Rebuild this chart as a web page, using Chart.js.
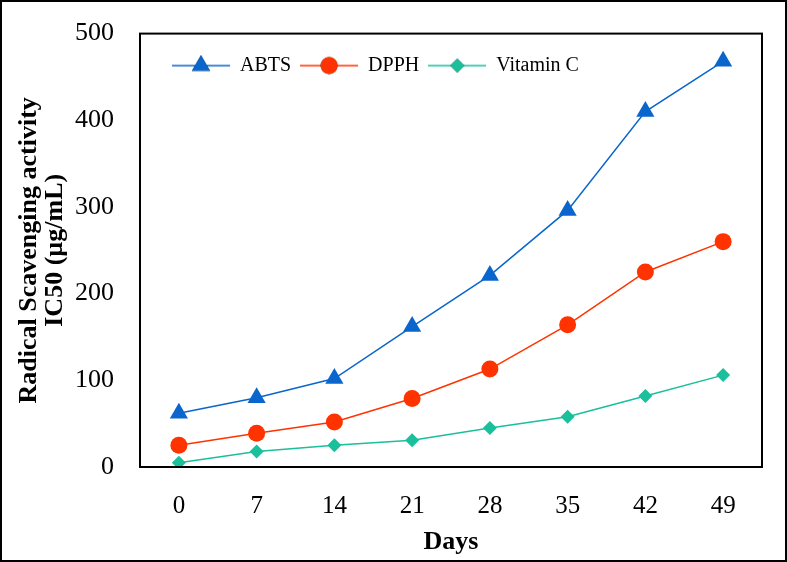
<!DOCTYPE html>
<html>
<head>
<meta charset="utf-8">
<script src="https://cdn.jsdelivr.net/npm/chart.js@4.4.1/dist/chart.umd.min.js"></script>
<style>
  body { margin: 0; background: #fff; }
  #wrap { position: relative; width: 787px; height: 562px; }
  #frame { position: absolute; left: 0; top: 0; width: 787px; height: 562px; box-sizing: border-box; border: 2px solid #000; pointer-events: none; }
</style>
</head>
<body>
<div id="wrap">
  <canvas id="chart" width="787" height="562"></canvas>
  <div id="frame"></div>
</div>
<script>
const days = ['0', '7', '14', '21', '28', '35', '42', '49'];
const abts = [62, 80, 102, 162, 221, 296, 410, 468];
const dpph = [25, 39, 52, 79, 113, 164, 225, 260];
const vitaminC = [5, 18, 25, 31, 45, 58, 82, 106];
const yTicks = [0, 100, 200, 300, 400, 500];

const serif = 'Liberation Serif';

// small line + marker picture for each legend entry
function legendIcon(color, style, r) {
    const c = document.createElement('canvas');
    c.width = 58;
    c.height = 22;
    const g = c.getContext('2d');
    g.strokeStyle = color;
    g.lineWidth = 1.5;
    g.beginPath();
    g.moveTo(0, 11);
    g.lineTo(58, 11);
    g.stroke();
    Chart.helpers.drawPoint(g, { pointStyle: style, radius: r, borderWidth: 0 }, 29, 11);
    g.fillStyle = color;
    g.fill();
    return c;
}

// legend sits inside the plot box, so it takes no room in the layout
const boxPlugin = {
    id: 'box',
    afterInit(chart) {
        const lg = chart.legend;
        const fit = lg.fit;
        lg.fit = function () {
            fit.call(this);
            this.realHeight = this.height;
            this.height = 0;
        };
    },
    beforeDraw(chart) {
        const a = chart.chartArea;
        const lg = chart.legend;
        lg.left = a.left + 23;
        lg.width = a.right - a.left - 23;
        lg.right = lg.left + lg.width;
        lg.top = a.top + 13;
        lg.height = lg.realHeight;
        lg.bottom = lg.top + lg.height;
    },
    afterDraw(chart) {
        const a = chart.chartArea;
        const ctx = chart.ctx;
        ctx.save();
        ctx.strokeStyle = '#000';
        ctx.lineWidth = 2;
        ctx.strokeRect(a.left, a.top, a.right - a.left, a.bottom - a.top);
        ctx.restore();
    }
};

function series(label, data, color, style, r) {
    return {
        label: label,
        data: data,
        borderColor: color,
        backgroundColor: color,
        borderWidth: 1.5,
        pointStyle: style,
        pointRadius: r,
        pointBorderWidth: 0,
        legendIcon: legendIcon(color, style, r)
    };
}

const ctx = document.getElementById('chart').getContext('2d');
new Chart(ctx, {
    type: 'line',
    data: {
        labels: days,
        datasets: [
            series('ABTS', abts, '#0A66CC', 'triangle', 10.5),
            series('DPPH', dpph, '#FF3300', 'circle', 8.5),
            series('Vitamin C', vitaminC, '#1ABF9B', 'rectRot', 7)
        ]
    },
    options: {
        responsive: false,
        animation: false,
        layout: { padding: { left: 12, right: 25, top: 23, bottom: 0 } },
        plugins: {
            legend: {
                position: 'top',
                align: 'start',
                labels: {
                    usePointStyle: true,
                    pointStyleWidth: 58,
                    padding: 9,
                    color: '#000',
                    font: { family: serif, size: 20 },
                    generateLabels(chart) {
                        return chart.data.datasets.map((d, i) => ({
                            text: d.label,
                            pointStyle: d.legendIcon,
                            fillStyle: d.borderColor,
                            strokeStyle: d.borderColor,
                            lineWidth: 0,
                            datasetIndex: i
                        }));
                    }
                }
            },
            tooltip: { enabled: false }
        },
        scales: {
            x: {
                offset: true,
                grid: { display: false },
                border: { display: false },
                ticks: { color: '#000', padding: 16, font: { family: serif, size: 25 } },
                title: {
                    display: true,
                    text: 'Days',
                    color: '#000',
                    padding: { top: 12 },
                    font: { family: serif, size: 26, weight: 'bold' }
                },
                afterFit(s) { s.height = 95; }
            },
            y: {
                min: 0,
                max: 500,
                grid: { display: false },
                border: { display: false },
                afterBuildTicks(s) { s.ticks = yTicks.map(v => ({ value: v })); },
                ticks: { color: '#000', padding: 18, font: { family: serif, size: 26 } },
                title: {
                    display: true,
                    text: ['Radical Scavenging activity', 'IC50 (µg/mL)'],
                    color: '#000',
                    padding: { top: 4, bottom: 0 },
                    font: { family: serif, size: 26, weight: 'bold', lineHeight: 1.0 }
                },
                afterFit(s) { s.width = 128; }
            }
        }
    },
    plugins: [boxPlugin]
});
</script>
</body>
</html>
